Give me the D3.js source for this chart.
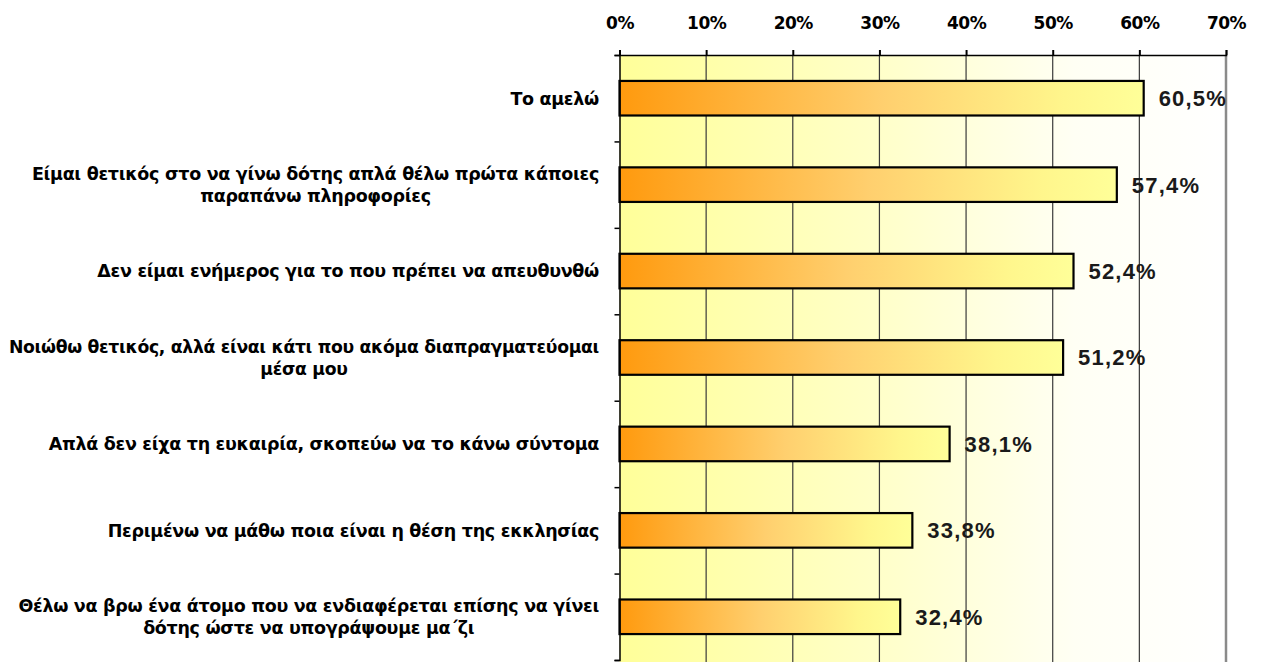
<!DOCTYPE html>
<html>
<head>
<meta charset="utf-8">
<script src="https://cdn.jsdelivr.net/npm/d3@7"></script>
<style>
  html, body { margin: 0; padding: 0; background: #fff; }
  svg { display: block; }
  .cat { font-family: "DejaVu Sans", "Liberation Sans", sans-serif; font-weight: bold; fill: #000; }
  .val { font-family: "Liberation Sans", Arial, sans-serif; font-weight: bold; font-size: 22px; fill: #1a1a1a; }
  .tick-lab { font-family: "DejaVu Sans", "Liberation Sans", sans-serif; font-weight: bold; font-size: 17px; fill: #000; }
</style>
</head>
<body>
<svg id="chart" width="1266" height="662"></svg>
<script>
// Survey answers (each line of a label is a separate entry)
const categories = [
  ["Το αμελώ"],
  ["Είμαι θετικός στο να γίνω δότης απλά θέλω πρώτα κάποιες", "παραπάνω πληροφορίες"],
  ["Δεν είμαι ενήμερος για το που πρέπει να απευθυνθώ"],
  ["Νοιώθω θετικός, αλλά είναι κάτι που ακόμα διαπραγματεύομαι", "μέσα μου"],
  ["Απλά δεν είχα τη ευκαιρία, σκοπεύω να το κάνω σύντομα"],
  ["Περιμένω να μάθω ποια είναι η θέση της εκκλησίας"],
  ["Θέλω να βρω ένα άτομο που να ενδιαφέρεται επίσης να γίνει", "δότης ώστε να υπογράψουμε μα΄ζι"]
];
const values = [60.5, 57.4, 52.4, 51.2, 38.1, 33.8, 32.4];
const xTicks = [0, 10, 20, 30, 40, 50, 60, 70];

const svg = d3.select("#chart");
const plot = { left: 619.5, right: 1226, top: 55, bottom: 660 };

const keys = categories.map((c, i) => i);
const x = d3.scaleLinear().domain([0, 70]).range([plot.left, plot.right]);
const y = d3.scaleBand().domain(keys).range([plot.top, plot.bottom])
  .paddingInner(0.6).paddingOuter(0.3);

const defs = svg.append("defs");
// plot area: pale yellow fading to white
const bg = defs.append("linearGradient").attr("id", "bgGrad")
  .attr("x1", "0%").attr("x2", "100%").attr("y1", "0%").attr("y2", "0%");
bg.append("stop").attr("offset", "0%").attr("stop-color", "#ffff99");
bg.append("stop").attr("offset", "45%").attr("stop-color", "#ffffcc");
bg.append("stop").attr("offset", "75%").attr("stop-color", "#fffff4");
bg.append("stop").attr("offset", "100%").attr("stop-color", "#ffffff");
// bars: orange to light yellow
const bar = defs.append("linearGradient").attr("id", "barGrad")
  .attr("x1", "0%").attr("x2", "100%").attr("y1", "0%").attr("y2", "0%");
bar.append("stop").attr("offset", "0%").attr("stop-color", "#ff9a0e");
bar.append("stop").attr("offset", "50%").attr("stop-color", "#ffcf6e");
bar.append("stop").attr("offset", "85%").attr("stop-color", "#fff68c");
bar.append("stop").attr("offset", "100%").attr("stop-color", "#ffff99");

svg.append("rect")
  .attr("x", x(0)).attr("y", plot.top)
  .attr("width", x(70) - x(0)).attr("height", plot.bottom - plot.top + 5)
  .attr("fill", "url(#bgGrad)");

// vertical gridlines
svg.append("g").selectAll("line")
  .data(xTicks.filter(t => t > 0 && t < 70))
  .join("line")
  .attr("x1", d => x(d)).attr("x2", d => x(d))
  .attr("y1", plot.top).attr("y2", plot.bottom + 5)
  .attr("stroke", "#3a3a3a").attr("stroke-width", 1.2);

// right border of plot area
svg.append("line")
  .attr("x1", x(70)).attr("x2", x(70))
  .attr("y1", plot.top).attr("y2", plot.bottom + 5)
  .attr("stroke", "#8a8a8a").attr("stroke-width", 2.5);

// bars
svg.append("g").selectAll("rect")
  .data(values)
  .join("rect")
  .attr("x", x(0))
  .attr("y", (d, i) => y(i))
  .attr("width", d => x(d) - x(0))
  .attr("height", y.bandwidth())
  .attr("fill", "url(#barGrad)")
  .attr("stroke", "#000").attr("stroke-width", 2.2);

// value labels
const fmt = v => d3.format(".1f")(v).replace(".", ",") + "%";
svg.append("g").selectAll("text")
  .data(values)
  .join("text")
  .attr("class", "val")
  .attr("x", d => x(d) + 15)
  .attr("y", (d, i) => y(i) + y.bandwidth() / 2)
  .attr("dy", "0.36em")
  .attr("letter-spacing", "1.2px")
  .text(d => fmt(d));

// top axis
const topAxis = svg.append("g")
  .attr("transform", `translate(0,${plot.top})`)
  .call(d3.axisTop(x).tickValues(xTicks).tickSize(5).tickPadding(21)
    .tickFormat(d => d + "%"));
topAxis.select(".domain").attr("stroke", "#000").attr("stroke-width", 1.5);
topAxis.selectAll(".tick line").attr("stroke", "#000").attr("stroke-width", 2);
topAxis.selectAll(".tick text").attr("class", "tick-lab").attr("font-size", null).attr("font-family", null)
  .attr("letter-spacing", "-0.5px");

// left axis with ticks at category boundaries
const edge = d3.scaleLinear().domain([0, categories.length]).range([plot.top, plot.top + y.step() * categories.length]);
const leftAxis = svg.append("g")
  .attr("transform", `translate(${plot.left},0)`)
  .call(d3.axisLeft(edge).ticks(categories.length).tickSize(5).tickFormat(""));
leftAxis.select(".domain").attr("stroke", "#000").attr("stroke-width", 1.5);
leftAxis.selectAll(".tick line").attr("stroke", "#000").attr("stroke-width", 1.5);

// category labels, wrapped lines centred on each other, block right-aligned;
// a label too long for the margin is set slightly smaller so it stays on the page
const labelRight = 599;
const labelLeft = 8;
const baseSize = 17.5;
const lineH = 22;
const catG = svg.append("g");
categories.forEach((lines, i) => {
  const cy = y(i) + y.bandwidth() / 2;
  const t = catG.append("text").attr("class", "cat")
    .attr("font-size", baseSize).attr("letter-spacing", "-0.3px");
  lines.forEach((ln, j) => {
    t.append("tspan").text(ln)
      .attr("y", cy + (j - (lines.length - 1) / 2) * lineH)
      .attr("dy", "0.36em");
  });
  let maxW = d3.max(t.selectAll("tspan").nodes(), n => n.getComputedTextLength());
  const avail = labelRight - labelLeft;
  if (maxW > avail) {
    t.attr("font-size", baseSize * avail / maxW);
    maxW = d3.max(t.selectAll("tspan").nodes(), n => n.getComputedTextLength());
  }
  t.attr("text-anchor", "middle");
  t.selectAll("tspan").attr("x", labelRight - maxW / 2);
});
</script>
</body>
</html>
